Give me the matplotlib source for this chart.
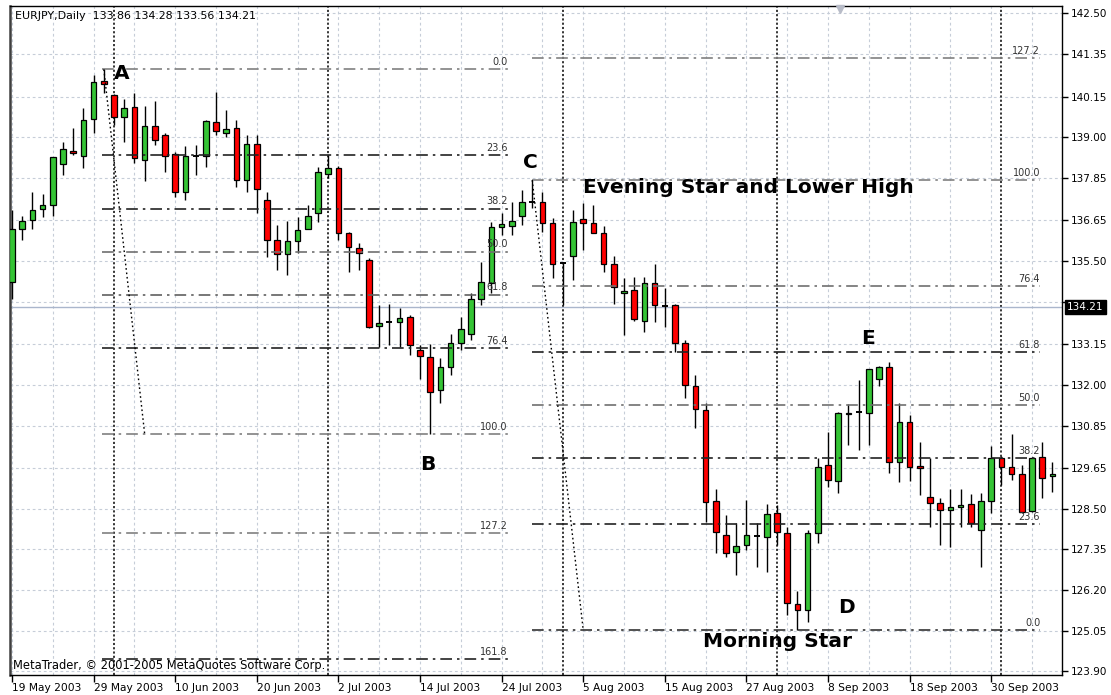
import numpy as np
import pandas as pd
import matplotlib
matplotlib.use("Agg")
import matplotlib.pyplot as plt

# EURJPY daily candles, 19 May 2003 .. 8 Oct 2003
opens = [134.91, 136.42, 136.66, 136.96, 137.08, 138.24, 138.62, 138.47, 139.53, 140.59,
         140.19, 139.58, 139.86, 138.37, 139.31, 139.06, 138.52, 137.46, 138.45, 138.47,
         139.44, 139.13, 139.25, 137.79, 138.80, 137.24, 136.09, 135.70, 136.06, 136.42,
         136.85, 137.96, 138.12, 136.30, 135.88, 135.53, 133.66, 133.76, 133.78, 133.92,
         132.98, 132.79, 131.85, 132.51, 133.19, 133.44, 134.44, 134.87, 136.45, 136.49,
         136.77, 137.18, 137.18, 136.58, 135.43, 135.64, 136.68, 136.58, 136.30, 135.41,
         134.59, 134.68, 133.80, 134.87, 134.26, 134.26, 133.19, 131.96, 131.29, 128.72,
         127.75, 127.28, 127.47, 127.75, 127.71, 128.37, 127.80, 125.80, 125.63, 127.82,
         129.73, 129.29, 131.17, 131.21, 131.21, 132.16, 132.51, 129.83, 130.96, 129.70,
         128.84, 128.67, 128.46, 128.54, 128.63, 127.89, 128.72, 129.92, 129.69, 129.47,
         128.44, 129.97, 129.43]
highs = [136.94, 136.77, 137.46, 137.41, 138.45, 138.87, 139.25, 139.82, 140.76, 140.92,
         140.22, 140.07, 140.24, 139.88, 140.03, 139.12, 138.58, 138.75, 138.78, 139.48,
         140.28, 139.77, 139.48, 139.06, 139.06, 137.46, 136.52, 136.63, 136.75, 137.08,
         138.15, 138.49, 138.18, 136.32, 136.01, 135.60, 134.26, 134.30, 134.17, 133.97,
         133.12, 133.17, 132.75, 133.45, 133.92, 134.60, 135.48, 136.61, 136.85, 137.18,
         137.51, 137.79, 137.46, 136.71, 135.47, 136.94, 137.13, 137.08, 136.49, 135.64,
         135.01, 135.06, 135.06, 135.41, 134.73, 134.30, 133.27, 132.28, 131.48, 129.05,
         128.32, 128.09, 128.76, 128.10, 128.63, 128.60, 127.97, 126.17, 127.89, 129.94,
         130.67, 131.24, 131.46, 132.14, 132.45, 132.53, 132.65, 131.48, 131.15, 130.39,
         129.93, 128.79, 129.05, 129.05, 128.93, 128.95, 130.27, 129.99, 130.61, 129.73,
         129.96, 130.39, 129.83]
lows = [134.44, 136.09, 136.42, 136.75, 136.77, 137.93, 138.49, 138.12, 139.11, 140.26,
        139.34, 138.87, 138.26, 137.77, 138.78, 138.02, 137.30, 137.22, 137.93, 138.16,
        139.06, 139.01, 137.60, 137.46, 136.85, 135.62, 135.26, 135.10, 135.73, 136.40,
        136.61, 137.85, 136.09, 135.20, 135.24, 133.60, 133.08, 133.12, 133.08, 132.84,
        132.18, 130.60, 131.48, 132.28, 132.98, 133.27, 134.26, 134.59, 136.23, 136.23,
        136.52, 136.99, 136.33, 135.01, 134.26, 134.96, 135.81, 136.28, 135.20, 134.30,
        133.41, 133.81, 133.50, 133.78, 133.64, 132.94, 131.62, 130.77, 128.13, 127.25,
        127.14, 126.62, 127.33, 126.86, 126.72, 127.47, 125.49, 125.07, 125.30, 127.52,
        129.10, 128.95, 130.30, 130.16, 130.30, 131.96, 129.50, 129.26, 129.29, 128.90,
        127.98, 127.47, 127.42, 127.99, 127.99, 126.86, 128.37, 129.17, 129.31, 128.37,
        128.40, 128.79, 128.98]
closes = [136.42, 136.63, 136.94, 137.08, 138.43, 138.66, 138.56, 139.48, 140.57, 140.50,
          139.58, 139.82, 138.40, 139.31, 138.92, 138.47, 137.46, 138.48, 138.48, 139.46,
          139.17, 139.22, 137.79, 138.80, 137.55, 136.09, 135.70, 136.07, 136.39, 136.77,
          138.01, 138.12, 136.30, 135.89, 135.74, 133.64, 133.76, 133.78, 133.90, 133.12,
          132.81, 131.80, 132.51, 133.19, 133.57, 134.44, 134.91, 136.45, 136.54, 136.64,
          137.18, 137.16, 136.58, 135.43, 135.45, 136.61, 136.58, 136.30, 135.41, 134.76,
          134.66, 133.85, 134.87, 134.26, 134.24, 133.19, 131.99, 131.31, 128.70, 127.85,
          127.25, 127.44, 127.75, 127.73, 128.35, 127.85, 125.84, 125.65, 127.80, 129.68,
          129.31, 131.21, 131.21, 131.24, 132.44, 132.51, 129.83, 130.96, 129.67, 129.66,
          128.67, 128.46, 128.55, 128.60, 128.09, 128.72, 129.94, 129.69, 129.48, 128.41,
          129.94, 129.37, 129.47]

dates = pd.bdate_range("2003-05-19", periods=len(opens))

ytick_vals = [142.50, 141.35, 140.15, 139.00, 137.85, 136.65, 135.50, 134.35, 133.15,
              132.00, 130.85, 129.65, 128.50, 127.35, 126.20, 125.05, 123.90]
last_price = 134.21
header = "EURJPY,Daily  133.86 134.28 133.56 134.21"
footer = "MetaTrader, \u00a9 2001-2005 MetaQuotes Software Corp."

# fibonacci retracements: A->B and D->C
fib_levels1 = [0.0, 23.6, 38.2, 50.0, 61.8, 76.4, 100.0, 127.2, 161.8]
fib_levels2 = [0.0, 23.6, 38.2, 50.0, 61.8, 76.4, 100.0, 127.2]
A_idx, A_price = 9, 140.92
B_price = 130.62
C_idx, C_price = 51, 137.79
D_price = 125.07

o = np.array(opens); h = np.array(highs); l = np.array(lows); c = np.array(closes)
x = np.arange(len(o))

fig = plt.figure(figsize=(11.11, 6.95), dpi=100)
ax = fig.add_axes([10 / 1111, 20 / 695, 1052 / 1111, 669 / 695])
ax.set_xlim(-0.2, 102.94)
ax.set_ylim(123.80, 142.71)

# grid
gcol = "#c6cdd8"
for yv in ytick_vals:
    ax.axhline(yv, color=gcol, lw=0.8, ls=(0, (2.5, 2.5)), zorder=1)
for xv in range(0, len(x), 4):
    ax.axvline(xv, color=gcol, lw=0.8, ls=(0, (2.5, 2.5)), zorder=1)

# month separators
for i in range(1, len(dates)):
    if dates[i].month != dates[i - 1].month:
        ax.axvline(i, color="black", lw=1.1, ls=(0, (1.4, 1.4)), zorder=2)

ax.axhline(last_price, color="#aab6cc", lw=1, zorder=2)

# candles
up = c >= o
doji = np.abs(c - o) < 0.035
ax.vlines(x, l, h, color="black", lw=1.0, zorder=3)
body_col = np.where(up, "#35c435", "#ff0000")
m = ~doji
ax.bar(x[m], np.abs(c - o)[m], bottom=np.minimum(o, c)[m], width=0.55,
       color=body_col[m], edgecolor="black", linewidth=0.9, zorder=4)
ax.hlines(c[doji], x[doji] - 0.3, x[doji] + 0.3, color="black", lw=1.4, zorder=4)

# fibonacci lines (drawn over the candles)
dashdot = (0, (7, 3, 1.5, 3))
fib1_cols = ["#808080", "#222222", "#222222", "#707070", "#606060", "#222222", "#808080", "#808080", "#222222"]
fib2_cols = ["#333333", "#222222", "#222222", "#707070", "#222222", "#707070", "#808080", "#808080"]
for lev, col in zip(fib_levels1, fib1_cols):
    p = A_price - (A_price - B_price) * lev / 100
    ax.hlines(p, A_idx - 0.15, 48.7, color=col, lw=1.2, ls=dashdot, zorder=5)
    ax.text(48.6, p + 0.06, f"{lev:.1f}", ha="right", va="bottom", fontsize=7,
            color="#333333", zorder=6)
for lev, col in zip(fib_levels2, fib2_cols):
    p = D_price + (C_price - D_price) * lev / 100
    ax.hlines(p, C_idx, 100.8, color=col, lw=1.2, ls=dashdot, zorder=5)
    ax.text(100.8, p + 0.06, f"{lev:.1f}", ha="right", va="bottom", fontsize=7,
            color="#333333", zorder=6)
ax.plot([A_idx, A_idx + 4], [A_price, B_price], color="black", lw=1, ls=(0, (1.2, 2)), zorder=5)
ax.plot([C_idx, C_idx + 5], [C_price, D_price], color="black", lw=1, ls=(0, (1.2, 2)), zorder=5)

# annotations
big = dict(fontsize=14.5, fontweight="bold", color="black", zorder=7)
ax.text(10.8, 140.81, "A", ha="center", va="center", **big)
ax.text(40.8, 129.76, "B", ha="center", va="center", **big)
ax.text(50.8, 138.30, "C", ha="center", va="center", **big)
ax.text(81.8, 125.72, "D", ha="center", va="center", **big)
ax.text(83.9, 133.32, "E", ha="center", va="center", **big)
ax.text(56.0, 137.59, "Evening Star and Lower High", ha="left", va="center", **big)
ax.text(67.7, 124.76, "Morning Star", ha="left", va="center", **big)

# shift marker
ax.plot([81.2], [142.62], marker="v", ms=6, color="#b8bcc8", zorder=7, clip_on=False)

# axes
for s in ax.spines.values():
    s.set_color("black")
    s.set_linewidth(1.0)
ax.spines["left"].set_linewidth(1.8)
ax.spines["left"].set_color("#404040")

ax.yaxis.tick_right()
ax.set_yticks(ytick_vals)
ax.set_yticklabels(["" if v == 134.35 else f"{v:.2f}" for v in ytick_vals])
ax.tick_params(axis="y", length=4, width=1, labelsize=7.5, pad=2, colors="black")

xt = list(range(0, len(x), 8))
ax.set_xticks(xt)
ax.set_xticklabels([f"{dates[i].day} {dates[i]:%b %Y}" for i in xt], ha="left")
ax.tick_params(axis="x", length=5, width=1, labelsize=7.7, pad=1)

ax.text(1.005, (last_price - 123.80) / (142.71 - 123.80), f"{last_price:.2f}",
        transform=ax.transAxes, ha="left", va="center", fontsize=7.5, color="white",
        bbox=dict(boxstyle="square,pad=0.2", fc="black", ec="black"), zorder=8)

fig.text(15 / 1111, 1 - 16 / 695, header, ha="left", va="center", fontsize=7.9)
fig.text(13 / 1111, 1 - 665 / 695, footer, ha="left", va="center", fontsize=8.3)

fig.savefig("out.png", dpi=100, facecolor="white")
